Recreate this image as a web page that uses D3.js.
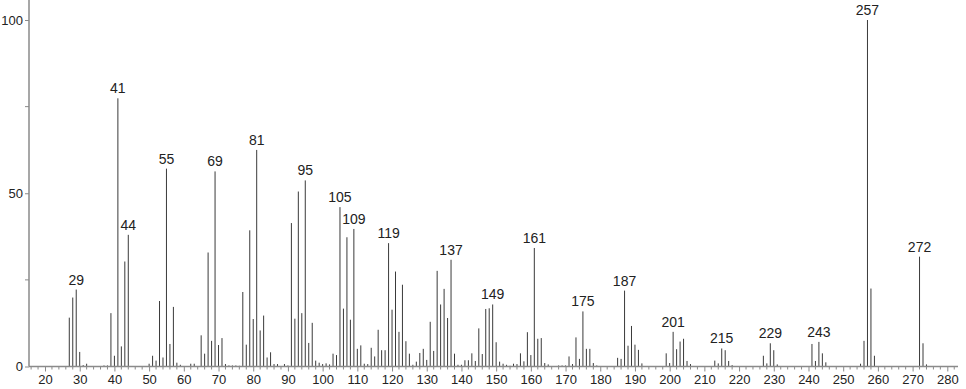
<!DOCTYPE html>
<html><head><meta charset="utf-8">
<script src="https://cdn.jsdelivr.net/npm/d3@7"></script>
<style>
html,body{margin:0;padding:0;background:#fff;}
svg{display:block;}
text{font-family:"Liberation Sans",Arial,sans-serif;}
</style></head>
<body>
<svg id="chart" width="966" height="389"></svg>
<script>
const mzValues = [27,28,29,30,31,32,37,38,39,40,41,42,43,44,50,51,52,53,54,55,56,57,58,59,62,63,
65,66,67,68,69,70,71,72,73,74,75,76,77,78,79,80,81,82,83,84,85,86,87,89,90,
91,92,93,94,95,96,97,98,99,100,101,102,103,104,105,106,107,108,109,110,111,112,113,114,115,116,117,118,
119,120,121,122,123,124,125,126,127,128,129,130,131,132,133,134,135,136,137,138,139,140,141,142,143,144,
145,146,147,148,149,150,151,152,153,154,155,156,157,158,159,160,161,162,163,164,165,168,169,170,171,172,173,174,
175,176,177,178,179,185,186,187,188,189,190,191,192,199,200,201,202,203,204,205,206,213,214,215,216,217,218,
227,228,229,230,231,241,242,243,244,245,255,256,257,258,259,272,273,274];
const intensities = [14.1,19.9,22.2,4.2,0.4,0.8,0.3,0.3,15.4,3.1,77.4,5.8,30.3,38.0,0.8,3.1,1.7,18.9,2.6,57.1,6.5,17.2,1.1,0.5,0.8,0.8,
9.0,3.7,32.9,7.4,56.3,6.2,8.2,0.7,0.3,0.3,0.3,0.2,21.5,6.3,39.3,13.7,62.5,10.4,14.7,2.6,4.1,0.7,0.7,0.7,0.3,
41.4,13.8,50.5,15.4,53.7,6.8,12.6,1.7,1.1,0.7,0.9,0.6,3.7,3.3,46.0,16.7,37.3,13.5,39.7,5.1,6.1,0.8,0.7,5.4,2.9,10.6,4.7,4.7,
35.6,16.4,27.4,10.0,23.6,7.3,3.7,0.5,1.4,3.9,5.1,1.9,12.9,4.5,27.6,17.9,22.4,14.0,30.8,3.7,0.5,0.5,1.8,1.8,3.8,1.6,
11.0,3.6,16.6,16.8,17.9,7.0,1.4,0.8,0.5,0.2,0.8,0.7,3.8,1.5,9.9,3.3,34.2,8.0,8.2,1.0,0.6,0.3,0.3,0.3,2.9,0.7,8.4,2.2,
15.9,5.1,5.1,1.0,0.3,2.5,2.2,21.9,6.0,11.7,6.3,4.8,0.9,3.8,1.0,10.0,5.0,7.2,8.0,1.6,0.7,1.7,0.9,5.2,4.7,1.6,0.4,
3.1,0.9,6.7,4.7,0.6,6.5,1.6,7.1,3.8,1.2,0.8,7.4,100,22.5,3.1,31.7,6.7,0.6];
const labeledPeaks = [29,41,44,55,69,81,95,105,109,119,137,149,161,175,187,201,215,229,243,257,272];
const xTickValues = [20,30,40,50,60,70,80,90,100,110,120,130,140,150,160,170,180,190,200,210,220,230,240,250,260,270,280];
const yTickLabels = [0,50,100];
const yMinorTicks = [25,75];

const svg = d3.select("#chart");
const x = d3.scaleLinear().domain([20,280]).range([45,947.3]);
const y = d3.scaleLinear().domain([0,100]).range([366.5,20]);
const axisColor = "#8a8a8a";

// bars
const data = mzValues.map((m,i)=>({mz:m, v:intensities[i]}));
svg.append("g").selectAll("line").data(data).join("line")
  .attr("x1",d=>x(d.mz)).attr("x2",d=>x(d.mz))
  .attr("y1",y(0)).attr("y2",d=>y(d.v))
  .attr("stroke","#3a3a3a").attr("stroke-width",1);

// x axis
const xAxis = d3.axisBottom(x).tickValues(xTickValues).tickSize(5).tickPadding(3);
const gx = svg.append("g").attr("transform",`translate(0,${y(0)})`).call(xAxis);
gx.select(".domain").remove();
gx.selectAll(".tick line").attr("stroke",axisColor);
gx.selectAll(".tick text").attr("fill","#222").style("font-size","13px").style("font-family","Liberation Sans, Arial, sans-serif");
const minor = d3.range(16,284,2).filter(v=>v%10!==0);
svg.append("g").selectAll("line").data(minor).join("line")
  .attr("x1",d=>x(d)).attr("x2",d=>x(d))
  .attr("y1",y(0)).attr("y2",y(0)+3)
  .attr("stroke",axisColor);
svg.append("line").attr("x1",29).attr("x2",958).attr("y1",y(0)).attr("y2",y(0))
  .attr("stroke",axisColor).attr("stroke-width",1.5);

// y axis
const yAxis = d3.axisLeft(y).tickValues(yTickLabels).tickSize(4).tickPadding(2);
const gy = svg.append("g").attr("transform","translate(29,0)").call(yAxis);
gy.select(".domain").remove();
gy.selectAll(".tick line").attr("stroke",axisColor);
gy.selectAll(".tick text").attr("fill","#222").style("font-size","13px").style("font-family","Liberation Sans, Arial, sans-serif");
svg.append("g").selectAll("line").data(yMinorTicks).join("line")
  .attr("x1",25).attr("x2",29).attr("y1",d=>y(d)).attr("y2",d=>y(d)).attr("stroke",axisColor);
svg.append("line").attr("x1",29).attr("x2",29).attr("y1",0).attr("y2",y(0))
  .attr("stroke",axisColor).attr("stroke-width",1.5);

// peak labels
svg.append("g").selectAll("text").data(data.filter(d=>labeledPeaks.includes(d.mz))).join("text")
  .attr("x",d=>x(d.mz)).attr("y",d=>y(d.v)-5)
  .attr("text-anchor","middle").attr("fill","#222").style("font-size","14px")
  .text(d=>d.mz);
</script>
</body></html>
